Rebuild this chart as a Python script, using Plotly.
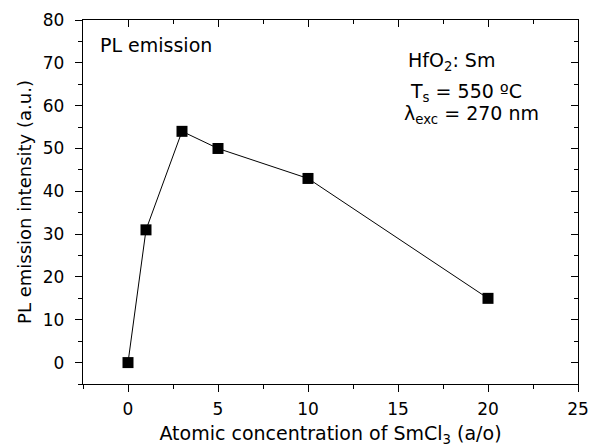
import plotly.graph_objects as go

# SmCl3 concentration (a/o) and PL emission intensity (a.u.)
concentration = [0, 1, 3, 5, 10, 20]
intensity = [0, 31, 54, 50, 43, 15]

x_ticks = [0, 5, 10, 15, 20, 25]
y_ticks = [0, 10, 20, 30, 40, 50, 60, 70, 80]

FONT = "DejaVu Sans, Arial, sans-serif"

fig = go.Figure()
fig.add_trace(go.Scatter(
    x=concentration, y=intensity, mode="lines+markers",
    line=dict(color="black", width=1),
    marker=dict(symbol="square", size=11, color="black"),
    showlegend=False,
))

axis_common = dict(
    showline=True, linecolor="black", linewidth=1.3,
    showgrid=False, zeroline=False, automargin=False,
    tickcolor="black", ticklen=7, tickwidth=1.2,
    tickfont=dict(family=FONT, size=17, color="black"),
)

fig.update_layout(
    width=597, height=447,
    margin=dict(l=83, r=19, t=20, b=63),
    paper_bgcolor="white", plot_bgcolor="white",
    font=dict(family=FONT, color="black"),
    xaxis=dict(
        range=[-2.5, 25], tickvals=x_ticks, ticks="outside",
        ticklabelstandoff=2,
        minor=dict(dtick=2.5, tick0=0, ticks="outside", ticklen=4, tickcolor="black"),
        title=dict(text="Atomic concentration of SmCl<sub>3</sub> (a/o)",
                   font=dict(family=FONT, size=19), standoff=10),
        **axis_common,
    ),
    yaxis=dict(
        range=[-5, 80], tickvals=y_ticks, ticks="outside",
        ticklabelstandoff=7,
        minor=dict(dtick=5, tick0=0, ticks="outside", ticklen=4, tickcolor="black"),
        title=dict(text="PL emission intensity (a.u.)",
                   font=dict(family=FONT, size=18), standoff=6),
        **axis_common,
    ),
    xaxis2=dict(
        overlaying="x", side="top", matches="x", range=[-2.5, 25],
        tickvals=x_ticks, ticks="inside", showticklabels=False,
        minor=dict(dtick=2.5, tick0=0, ticks="inside", ticklen=4, tickcolor="black"),
        **axis_common,
    ),
    yaxis2=dict(
        overlaying="y", side="right", matches="y", range=[-5, 80],
        tickvals=y_ticks, ticks="inside", showticklabels=False,
        minor=dict(dtick=5, tick0=0, ticks="inside", ticklen=4, tickcolor="black"),
        **axis_common,
    ),
)

# invisible trace to activate the mirror axes
fig.add_trace(go.Scatter(x=[None], y=[None], xaxis="x2", yaxis="y2",
                         showlegend=False, hoverinfo="skip"))

ann_font = dict(family=FONT, size=19, color="black")
fig.add_annotation(x=0.03, y=0.931, xref="paper", yref="paper", text="PL emission",
                   showarrow=False, xanchor="left", yanchor="middle", font=ann_font)
fig.add_annotation(x=0.653, y=0.885, xref="paper", yref="paper", text="HfO<sub>2</sub>: Sm",
                   showarrow=False, xanchor="left", yanchor="middle", font=ann_font)
fig.add_annotation(x=0.657, y=0.80, xref="paper", yref="paper", text="T<sub>s</sub> = 550 ºC",
                   showarrow=False, xanchor="left", yanchor="middle", font=ann_font)
fig.add_annotation(x=0.644, y=0.74, xref="paper", yref="paper", text="λ<sub>exc</sub> = 270 nm",
                   showarrow=False, xanchor="left", yanchor="middle", font=ann_font)

fig.write_html("out.html")
